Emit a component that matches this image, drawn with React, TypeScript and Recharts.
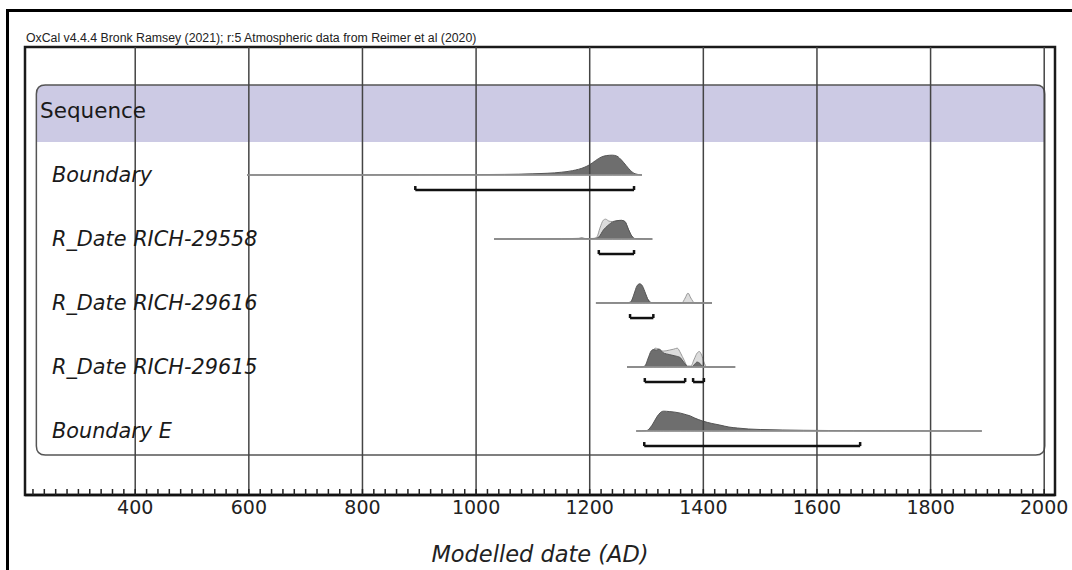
import React from "react";
import { ComposedChart, XAxis, YAxis, Area, Line, ReferenceArea, ReferenceLine } from "recharts";

const title = "OxCal v4.4.4 Bronk Ramsey (2021); r:5 Atmospheric data from Reimer et al (2020)";
const xLabel = "Modelled date (AD)";
const rowLabels = ["Sequence", "Boundary", "R_Date RICH-29558", "R_Date RICH-29616", "R_Date RICH-29615", "Boundary E"];
const majorTicks = [400, 600, 800, 1000, 1200, 1400, 1600, 1800, 2000];
const minorTicks: number[] = [];
for (let t = 220; t <= 2000; t += 20) minorTicks.push(t);

// [year, relative probability]
const boundaryRange = [597, 1292];
const boundaryPost = [
  [597, 0], [800, 0.005], [900, 0.01], [1000, 0.02], [1050, 0.03], [1100, 0.06], [1150, 0.14], [1170, 0.22],
  [1190, 0.38], [1200, 0.52], [1210, 0.72], [1220, 0.9], [1230, 0.98], [1240, 1], [1248, 0.95], [1256, 0.75],
  [1264, 0.48], [1272, 0.22], [1280, 0.06], [1292, 0],
];
const boundaryHpd = [[893, 1278]];

const rich29558Range = [1032, 1310];
const rich29558Like = [
  [1032, 0], [1150, 0.005], [1186, 0.04], [1200, 0.01], [1208, 0.03], [1213, 0.12], [1218, 0.55], [1224, 0.95],
  [1228, 1], [1234, 0.9], [1240, 0.88], [1248, 0.92], [1256, 0.94], [1262, 0.88], [1268, 0.5], [1274, 0.15],
  [1280, 0.02], [1310, 0],
];
const rich29558Post = [
  [1032, 0], [1150, 0.005], [1180, 0.02], [1186, 0.05], [1192, 0.02], [1210, 0.03], [1216, 0.1], [1224, 0.45],
  [1232, 0.68], [1240, 0.85], [1248, 0.92], [1256, 0.94], [1262, 0.88], [1268, 0.5], [1274, 0.15], [1280, 0.02],
  [1310, 0],
];
const rich29558Hpd = [[1216, 1278]];

const rich29616Range = [1211, 1415];
const rich29616Like = [
  [1211, 0], [1270, 0], [1278, 0.35], [1283, 0.7], [1288, 0.8], [1293, 0.7], [1298, 0.4], [1305, 0.1], [1312, 0],
  [1362, 0], [1368, 0.25], [1373, 0.5], [1378, 0.25], [1385, 0], [1415, 0],
];
const rich29616Post = [
  [1211, 0], [1265, 0.01], [1272, 0.05], [1278, 0.45], [1283, 0.85], [1288, 0.97], [1293, 0.85], [1298, 0.5],
  [1303, 0.15], [1308, 0.02], [1415, 0],
];
const rich29616Hpd = [[1271, 1312]];

const rich29615Range = [1266, 1456];
const rich29615Like = [
  [1266, 0], [1300, 0], [1306, 0.3], [1311, 0.75], [1315, 0.95], [1320, 0.92], [1329, 0.8], [1340, 0.85],
  [1348, 0.9], [1354, 0.95], [1360, 0.7], [1366, 0.35], [1372, 0.05], [1378, 0.05], [1384, 0.4], [1389, 0.7],
  [1393, 0.78], [1397, 0.6], [1401, 0.25], [1406, 0], [1456, 0],
];
const rich29615Post = [
  [1266, 0], [1290, 0], [1297, 0.05], [1303, 0.45], [1308, 0.8], [1312, 0.88], [1317, 0.85], [1322, 0.9],
  [1326, 0.82], [1329, 0.72], [1335, 0.66], [1341, 0.62], [1350, 0.56], [1359, 0.48], [1364, 0.3], [1368, 0.15],
  [1373, 0.02], [1380, 0.02], [1385, 0.15], [1389, 0.25], [1394, 0.18], [1398, 0.05], [1405, 0], [1456, 0],
];
const rich29615Hpd = [[1297, 1368], [1382, 1401]];

const boundaryERange = [1282, 1890];
const boundaryEPost = [
  [1282, 0], [1300, 0.02], [1306, 0.15], [1312, 0.4], [1318, 0.7], [1324, 0.92], [1330, 1], [1340, 0.98],
  [1350, 0.95], [1360, 0.9], [1370, 0.82], [1377, 0.76], [1385, 0.65], [1399, 0.5], [1415, 0.38], [1429, 0.3],
  [1445, 0.2], [1460, 0.15], [1480, 0.1], [1500, 0.075], [1540, 0.05], [1576, 0.035], [1620, 0.025],
  [1664, 0.015], [1720, 0.01], [1800, 0.005], [1890, 0],
];
const boundaryEHpd = [[1296, 1676]];

const X_DOMAIN: [number, number] = [206, 2019];
const Y_DOMAIN: [number, number] = [-1, 6];
const PEAK = 0.31; // peak height in row units
const HPD_OFFSET = 0.235;

const toPts = (arr: number[][]) => arr.map(([year, p]) => ({ year, p }));

const rows = [
  { row: 1, range: boundaryRange, like: null, post: boundaryPost, hpd: boundaryHpd },
  { row: 2, range: rich29558Range, like: rich29558Like, post: rich29558Post, hpd: rich29558Hpd },
  { row: 3, range: rich29616Range, like: rich29616Like, post: rich29616Post, hpd: rich29616Hpd },
  { row: 4, range: rich29615Range, like: rich29615Like, post: rich29615Post, hpd: rich29615Hpd },
  { row: 5, range: boundaryERange, like: null, post: boundaryEPost, hpd: boundaryEHpd },
];

const roundedRect = (x: number, y: number, w: number, h: number, r: number, bottom: boolean) => {
  const rb = bottom ? r : 0;
  return `M${x},${y + r}Q${x},${y} ${x + r},${y}H${x + w - r}Q${x + w},${y} ${x + w},${y + r}` +
    `V${y + h - rb}Q${x + w},${y + h} ${x + w - rb},${y + h}H${x + rb}Q${x},${y + h} ${x},${y + h - rb}Z`;
};

const XTick = (props: any) => {
  const { x, y, payload } = props;
  if (payload.value % 200 !== 0) return <g />;
  return (
    <text x={x} y={y} dy="0.71em" textAnchor="middle" fontSize={19} fill="#222" fontFamily="'DejaVu Sans', sans-serif">
      {payload.value}
    </text>
  );
};

const YTick = (props: any) => {
  const { x, y, payload } = props;
  const i = payload.value;
  const isHeader = i === 0;
  return (
    <text
      x={x + (isHeader ? 15 : 27)}
      y={y + 6.5}
      fontSize={isHeader ? 21.5 : 20.8}
      fontStyle={isHeader ? "normal" : "italic"}
      fill="#1a1a1a"
      textAnchor="start"
      fontFamily="'DejaVu Sans', sans-serif"
    >
      {rowLabels[i]}
    </text>
  );
};

const capDot = (props: any) => {
  const { cx, cy, index } = props;
  return <path key={`cap-${index}`} d={`M${cx},${cy}V${cy - 4}`} stroke="#111" strokeWidth={2.5} fill="none" />;
};

export default function App() {
  return (
    <div style={{ position: "absolute", left: 0, top: 0, width: 1072, height: 570, background: "#fff" }}>
      <div
        style={{
          position: "absolute", left: 6, top: 9, width: 1066, height: 561,
          borderLeft: "3px solid #000", borderTop: "3px solid #000", boxSizing: "border-box",
        }}
      />
      <div style={{ position: "absolute", left: 0, top: 0 }}>
        <ComposedChart width={1072} height={570} margin={{ top: 47, right: 17, bottom: 0, left: 0 }}>
          <ReferenceArea
            x1={226} x2={2001} y1={-0.406} y2={0.484}
            fill="#cccae4" stroke="none" ifOverflow="visible"
            shape={(p: any) => <path d={roundedRect(p.x, p.y, p.width, p.height, 9, false)} fill="#cccae4" />}
          />
          {majorTicks.map((t) => (
            <ReferenceLine key={`grid-${t}`} x={t} stroke="#444" strokeWidth={1.5} ifOverflow="visible" />
          ))}
          <ReferenceArea
            x1={226} x2={2001} y1={-0.406} y2={5.375}
            fill="none" ifOverflow="visible"
            shape={(p: any) => (
              <path d={roundedRect(p.x, p.y, p.width, p.height, 9, true)} fill="none" stroke="#555" strokeWidth={1.5} />
            )}
          />
          <ReferenceArea
            x1={X_DOMAIN[0]} x2={X_DOMAIN[1]} y1={Y_DOMAIN[0]} y2={Y_DOMAIN[1]}
            fill="none" stroke="#1a1a1a" strokeWidth={2.5} fillOpacity={0} ifOverflow="visible"
          />
          <XAxis
            dataKey="year"
            type="number"
            domain={X_DOMAIN}
            allowDataOverflow
            ticks={minorTicks}
            interval={0}
            tickSize={-6}
            tickMargin={12}
            tickLine={{ stroke: "#222", strokeWidth: 1.5 }}
            axisLine={{ stroke: "#111", strokeWidth: 2.5 }}
            tick={<XTick />}
            height={75}
            label={{
              value: xLabel, position: "insideBottom", offset: 8,
              style: { fontSize: 22.5, fontStyle: "italic", fill: "#222", fontFamily: "'DejaVu Sans', sans-serif" },
            }}
          />
          <YAxis
            type="number"
            domain={Y_DOMAIN}
            reversed
            allowDataOverflow
            ticks={[0, 1, 2, 3, 4, 5]}
            interval={0}
            width={25}
            tickSize={0}
            tickMargin={0}
            axisLine={false}
            tickLine={false}
            tick={<YTick />}
          />
          {rows.map((r) => (
            <Line
              key={`base-${r.row}`}
              data={r.range.map((year) => ({ year, y: r.row }))}
              dataKey="y"
              stroke="#999"
              strokeWidth={1.5}
              dot={false}
              activeDot={false}
              isAnimationActive={false}
            />
          ))}
          {rows.filter((r) => r.like).map((r) => (
            <Area
              key={`like-${r.row}`}
              data={toPts(r.like as number[][])}
              dataKey={(d: any) => [r.row, r.row - d.p * PEAK]}
              type="monotone"
              fill="#dcdcdc"
              fillOpacity={1}
              stroke="#9a9a9a"
              strokeWidth={1}
              dot={false}
              activeDot={false}
              isAnimationActive={false}
            />
          ))}
          {rows.map((r) => (
            <Area
              key={`post-${r.row}`}
              data={toPts(r.post)}
              dataKey={(d: any) => [r.row, r.row - d.p * PEAK]}
              type="monotone"
              fill="#6e6e6e"
              fillOpacity={1}
              stroke="#555"
              strokeWidth={1}
              dot={false}
              activeDot={false}
              isAnimationActive={false}
            />
          ))}
          {rows.flatMap((r) =>
            r.hpd.map((seg, j) => (
              <Line
                key={`hpd-${r.row}-${j}`}
                data={seg.map((year) => ({ year, y: r.row + HPD_OFFSET }))}
                dataKey="y"
                stroke="#111"
                strokeWidth={2.5}
                dot={capDot}
                activeDot={false}
                isAnimationActive={false}
              />
            ))
          )}
        </ComposedChart>
      </div>
      <div
        style={{
          position: "absolute", left: 26, top: 32, fontFamily: "'Liberation Sans', Arial, sans-serif",
          fontSize: 12.3, lineHeight: "13px", color: "#222", whiteSpace: "nowrap",
        }}
      >
        {title}
      </div>
    </div>
  );
}
